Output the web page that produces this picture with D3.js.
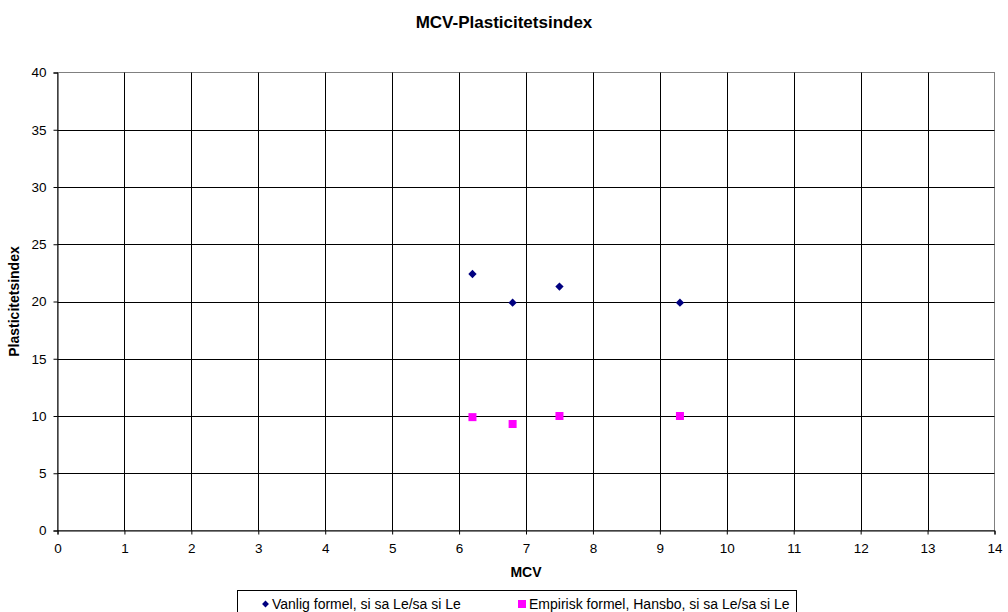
<!DOCTYPE html>
<html>
<head>
<meta charset="utf-8">
<script src="https://cdn.jsdelivr.net/npm/d3@7"></script>
<style>
  html, body { margin: 0; padding: 0; background: #fff; }
  svg { display: block; font-family: "Liberation Sans", Arial, sans-serif; }
</style>
</head>
<body>
<svg id="chart" width="1008" height="612"></svg>
<script>
// MCV values and the two plasticity index estimates
const mcv = [6.2, 6.8, 7.5, 9.3];
const vanligFormel = [22.4, 19.9, 21.3, 19.9];
const empiriskFormel = [9.9, 9.3, 10.0, 10.0];
const seriesNames = ["Vanlig formel, si sa Le/sa si Le", "Empirisk formel, Hansbo, si sa Le/sa si Le"];
const xTicks = d3.range(0, 15, 1);
const yTicks = d3.range(0, 45, 5);

const svg = d3.select("#chart");
const W = 1008, H = 612;
const margin = { left: 57.5, right: W - 994.5, top: 72.5, bottom: H - 530.5 };

const x = d3.scaleLinear().domain([0, 14]).range([margin.left, W - margin.right]);
const y = d3.scaleLinear().domain([0, 40]).range([H - margin.bottom, margin.top]);

// Title
svg.append("text")
  .attr("x", 504).attr("y", 27.5)
  .attr("text-anchor", "middle")
  .attr("font-size", 17).attr("font-weight", "bold")
  .text("MCV-Plasticitetsindex");

// Plot area border
svg.append("rect")
  .attr("x", x(0)).attr("y", y(40))
  .attr("width", x(14) - x(0)).attr("height", y(0) - y(40))
  .attr("fill", "none").attr("stroke", "#808080").attr("stroke-width", 1);

// Gridlines
const grid = svg.append("g").attr("stroke", "#000").attr("stroke-width", 1);
grid.selectAll("line.v").data(xTicks.filter(d => d > 0 && d < 14)).join("line")
  .attr("class", "v")
  .attr("x1", d => Math.round(x(d)) + 0.5).attr("x2", d => Math.round(x(d)) + 0.5)
  .attr("y1", y(0)).attr("y2", y(40));
grid.selectAll("line.h").data(yTicks.filter(d => d > 0 && d < 40)).join("line")
  .attr("class", "h")
  .attr("y1", d => Math.round(y(d)) + 0.5).attr("y2", d => Math.round(y(d)) + 0.5)
  .attr("x1", x(0)).attr("x2", x(14));

// Axes
const xAxis = svg.append("g")
  .attr("transform", `translate(0,${y(0)})`)
  .call(d3.axisBottom(x).tickValues(xTicks).tickSize(4).tickPadding(9).tickFormat(d3.format("d")));
const yAxis = svg.append("g")
  .attr("transform", `translate(${x(0)},0)`)
  .call(d3.axisLeft(y).tickValues(yTicks).tickSize(4).tickPadding(7).tickFormat(d3.format("d")));
[xAxis, yAxis].forEach(a => {
  a.select(".domain").attr("stroke", "#000");
  a.selectAll(".tick line").attr("stroke", "#000");
  a.selectAll(".tick text").attr("font-size", 13.5).attr("fill", "#000")
    .attr("font-family", "\"Liberation Sans\", Arial, sans-serif");
});

// Axis titles
svg.append("text")
  .attr("x", (x(0) + x(14)) / 2).attr("y", 577)
  .attr("text-anchor", "middle")
  .attr("font-size", 14).attr("font-weight", "bold")
  .text("MCV");
svg.append("text")
  .attr("transform", `translate(18.5,${(y(0) + y(40)) / 2}) rotate(-90)`)
  .attr("text-anchor", "middle")
  .attr("font-size", 14).attr("font-weight", "bold")
  .text("Plasticitetsindex");

// Series markers
const diamond = d3.symbol().type(d3.symbolDiamond2).size(44);
svg.append("g").selectAll("path").data(mcv.map((m, i) => [m, vanligFormel[i]])).join("path")
  .attr("d", diamond)
  .attr("transform", d => `translate(${x(d[0])},${y(d[1])})`)
  .attr("fill", "#000080");

svg.append("g").selectAll("rect").data(mcv.map((m, i) => [m, empiriskFormel[i]])).join("rect")
  .attr("x", d => x(d[0]) - 4).attr("y", d => y(d[1]) - 4)
  .attr("width", 8).attr("height", 8)
  .attr("fill", "#FF00FF");

// Legend
const legend = svg.append("g");
legend.append("rect")
  .attr("x", 237.5).attr("y", 590.5).attr("width", 559).attr("height", 30)
  .attr("fill", "#fff").attr("stroke", "#000").attr("stroke-width", 1);
legend.append("path")
  .attr("d", d3.symbol().type(d3.symbolDiamond2).size(30))
  .attr("transform", "translate(265.5,604)")
  .attr("fill", "#000080");
legend.append("text")
  .attr("x", 272).attr("y", 609).attr("font-size", 14)
  .text(seriesNames[0]);
legend.append("rect")
  .attr("x", 518).attr("y", 600).attr("width", 8).attr("height", 8)
  .attr("fill", "#FF00FF");
legend.append("text")
  .attr("x", 529).attr("y", 609).attr("font-size", 14)
  .text(seriesNames[1]);
</script>
</body>
</html>
